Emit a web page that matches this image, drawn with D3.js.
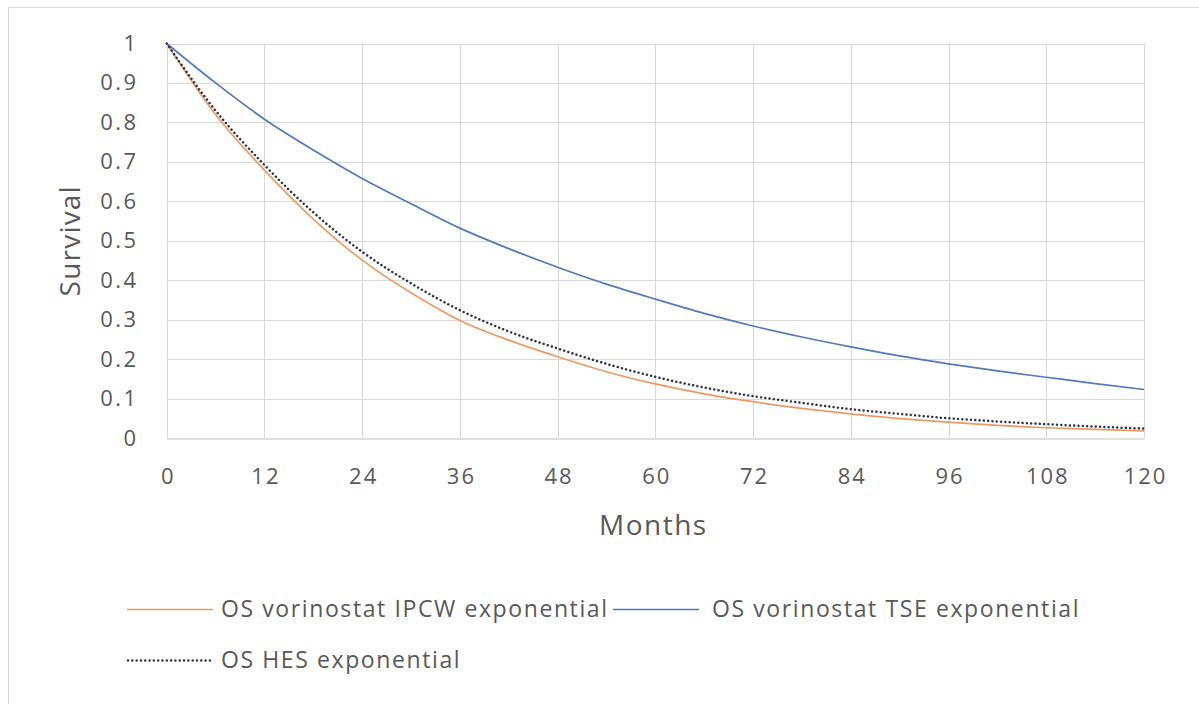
<!DOCTYPE html>
<html>
<head>
<meta charset="utf-8">
<script src="https://cdn.jsdelivr.net/npm/d3@7"></script>
<style>
  html, body { margin: 0; padding: 0; background: #ffffff; }
  svg { display: block; }
  text { font-family: "Open Sans", "Noto Sans", sans-serif; fill: #595959; }
</style>
</head>
<body>
<svg id="chart" width="1199" height="704"></svg>
<script>
// Survival estimates (proportion alive) by month
const months = [0, 6, 12, 18, 24, 30, 36, 42, 48, 54, 60, 66, 72, 78, 84, 90, 96, 102, 108, 114, 120];
const ipcw = [1, 0.82, 0.679, 0.555, 0.451, 0.368, 0.298, 0.248, 0.206, 0.168, 0.137, 0.112, 0.092, 0.075, 0.061, 0.049, 0.040, 0.032, 0.026, 0.022, 0.018];
const tse  = [1, 0.90, 0.808, 0.730, 0.658, 0.594, 0.532, 0.480, 0.433, 0.390, 0.352, 0.316, 0.284, 0.256, 0.231, 0.208, 0.188, 0.170, 0.154, 0.138, 0.123];
const hes  = [1, 0.83, 0.692, 0.572, 0.472, 0.392, 0.324, 0.270, 0.227, 0.188, 0.155, 0.128, 0.106, 0.089, 0.073, 0.061, 0.050, 0.042, 0.035, 0.029, 0.024];

const xTicks = [0, 12, 24, 36, 48, 60, 72, 84, 96, 108, 120];
const yTicks = [0, 0.1, 0.2, 0.3, 0.4, 0.5, 0.6, 0.7, 0.8, 0.9, 1];

const seriesNames = ["OS vorinostat IPCW exponential", "OS vorinostat TSE exponential", "OS HES exponential"];
const seriesColors = ["#ec9a63", "#5479bd", "#2d3340"];
const roundDot = "0.01 4.3";

const svg = d3.select("#chart");

// chart frame
svg.append("rect")
  .attr("x", 8.5).attr("y", 7.5)
  .attr("width", 1199).attr("height", 710)
  .attr("fill", "none").attr("stroke", "#d9d9d9");

const x = d3.scaleLinear().domain([0, 120]).range([166.7, 1144]);
const y = d3.scaleLinear().domain([0, 1]).range([438, 43.5]);

// gridlines
const grid = svg.append("g");
grid.selectAll("line.h").data(yTicks.filter(d => d > 0)).enter().append("line")
  .attr("x1", x(0)).attr("x2", x(120))
  .attr("y1", d => Math.round(y(d)) + 0.5).attr("y2", d => Math.round(y(d)) + 0.5)
  .attr("stroke", "#d9d9d9").attr("stroke-width", 1);
grid.selectAll("line.v").data(xTicks).enter().append("line")
  .attr("y1", y(1)).attr("y2", y(0))
  .attr("x1", d => Math.round(x(d)) + 0.5).attr("x2", d => Math.round(x(d)) + 0.5)
  .attr("stroke", "#d9d9d9").attr("stroke-width", 1);

// x axis
const xAxis = svg.append("g")
  .attr("transform", `translate(0,${Math.round(y(0)) + 0.5})`)
  .call(d3.axisBottom(x).tickValues(xTicks).tickSize(0).tickPadding(30));
xAxis.select(".domain").attr("stroke", "#bfbfbf").attr("stroke-width", 1.2);
xAxis.selectAll("text").style("font-size", "22px").style("letter-spacing", "2px")
  .attr("dx", "1px")
  .attr("fill", "#595959").style("font-family", "'Open Sans', sans-serif");

// y axis
const yAxis = svg.append("g")
  .attr("transform", `translate(${x(0) - 28},0)`)
  .call(d3.axisLeft(y).tickValues(yTicks).tickSize(0).tickPadding(0)
    .tickFormat(d => d3.format("")(+d.toFixed(1))));
yAxis.select(".domain").remove();
yAxis.selectAll("text").style("font-size", "22px").style("letter-spacing", "2.5px")
  .attr("fill", "#595959").style("font-family", "'Open Sans', sans-serif");

// axis titles
svg.append("text")
  .attr("x", (x(0) + x(120)) / 2 - 2).attr("y", 535)
  .attr("text-anchor", "middle")
  .style("font-size", "28px").style("letter-spacing", "1.5px")
  .text("Months");
svg.append("text")
  .attr("transform", `translate(80,${(y(0) + y(1)) / 2}) rotate(-90)`)
  .attr("text-anchor", "middle")
  .style("font-size", "28px").style("letter-spacing", "1.2px")
  .text("Survival");

// survival curves
const seriesData = [ipcw, tse, hes];
const line = d3.line()
  .x((d, i) => x(months[i]))
  .y(d => y(d))
  .curve(d3.curveMonotoneX);

const curves = svg.append("g");
[0, 1].forEach(k => {
  curves.append("path")
    .datum(seriesData[k])
    .attr("d", line)
    .attr("fill", "none")
    .attr("stroke", seriesColors[k])
    .attr("stroke-width", 1.7);
});
curves.append("path")
  .datum(seriesData[2])
  .attr("d", line)
  .attr("fill", "none")
  .attr("stroke", seriesColors[2])
  .attr("stroke-width", 2.5)
  .attr("stroke-linecap", "round")
  .attr("stroke-dasharray", roundDot);

// legend
const legendItems = [
  { name: seriesNames[0], color: seriesColors[0], dash: null, w: 1.7, lx: 127, ly: 609, tx: 221 },
  { name: seriesNames[1], color: seriesColors[1], dash: null, w: 1.7, lx: 613, ly: 609, tx: 712 },
  { name: seriesNames[2], color: seriesColors[2], dash: roundDot, w: 2.5, lx: 128, ly: 660, tx: 221 }
];
const legend = svg.append("g");
legendItems.forEach(it => {
  legend.append("line")
    .attr("x1", it.lx).attr("x2", it.lx + 86)
    .attr("y1", it.ly + 0.5).attr("y2", it.ly + 0.5)
    .attr("stroke", it.color).attr("stroke-width", it.w)
    .attr("stroke-linecap", it.dash ? "round" : "butt")
    .attr("stroke-dasharray", it.dash);
  legend.append("text")
    .attr("x", it.tx).attr("y", it.ly)
    .attr("dy", "0.35em")
    .style("font-size", "23px").style("letter-spacing", "1.6px")
    .text(it.name);
});
</script>
</body>
</html>
